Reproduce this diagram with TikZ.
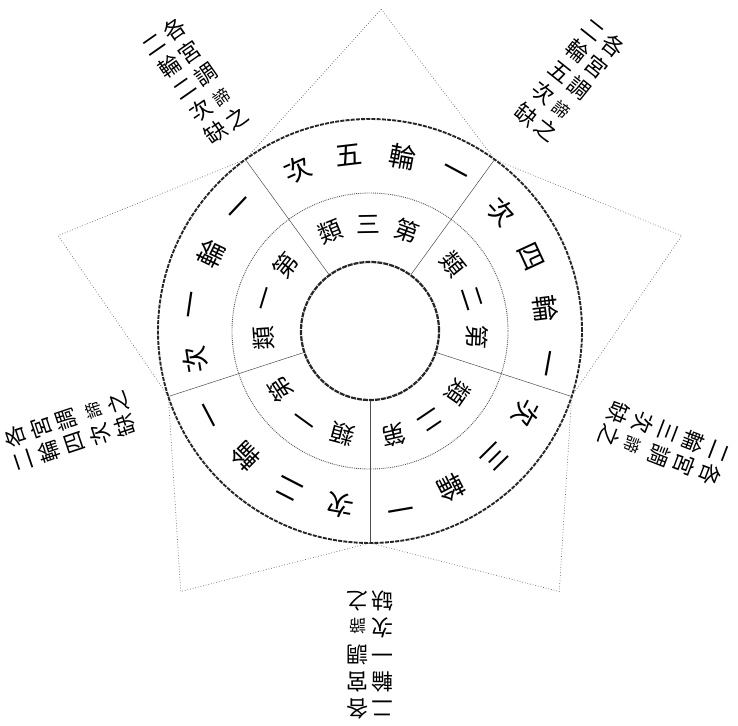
\documentclass[tikz,border=0pt]{standalone}
\usepackage{fontspec}
\newfontfamily\cjk{Noto Sans CJK TC}
\tikzset{
  starline/.style={dotted, line width=0.7pt, black!60},
  outerc/.style={line width=1.9pt, dash pattern=on 4pt off 1.2pt, black!85},
  innerc/.style={line width=2.2pt, dash pattern=on 5pt off 1pt, black!85},
  midc/.style={densely dotted, line width=0.9pt, black!65},
  divline/.style={line width=0.5pt, black!70},
  oc/.style={font=\cjk\fontsize{27}{27}\selectfont, inner sep=0pt},
  ic/.style={font=\cjk\fontsize{24}{24}\selectfont, inner sep=0pt},
  lab/.style={font=\cjk\fontsize{22}{27}\selectfont, inner sep=0pt}
}
\begin{document}
\begin{tikzpicture}[x=1pt,y=1pt]
\useasboundingbox (0,0) rectangle (738,-725);
\begin{scope}[shift={(370,-331)}]
\coordinate (C) at (0,0);
% star outline
\foreach \i/\a/\r in {0/88/322,1/126/212,2/163/326,3/198/212,4/234/322,5/270/212,6/306/322,7/342/212,8/17/326,9/54/212}
  \coordinate (s\i) at (\a:\r);
\draw[starline] (s0) -- (s1) -- (s2) -- (s3) -- (s4) -- (s5) -- (s6) -- (s7) -- (s8) -- (s9) -- cycle;
% circles
\draw[outerc] (C) circle (212);
\draw[midc] (C) circle (138);
\draw[innerc] (C) circle (69);
% sector dividers
\foreach \k/\a in {1/54,2/126,3/198,4/270,5/342} {
  \coordinate (da\k) at (\a:70);
  \coordinate (db\k) at (\a:211);
  \draw[divline] (da\k) -- (db\k);
}
% outer ring text
\foreach \c/\n [count=\k] in {163/一,234/二,306/三,16/四,88/五} {
  \foreach \o/\t [count=\j] in {-26.25/一,-8.75/輪,8.75/\n,26.25/次} {
    \pgfmathsetmacro\ang{\c+\o}
    \pgfmathsetmacro\rot{\c+\o-90}
    \node[oc, rotate=\rot] (o\k\j) at (\ang:177) {\t};
  }
}
% inner ring text
\foreach \c/\n [count=\k] in {163/一,234/一,304/二,18/二,91/三} {
  \foreach \o/\t [count=\j] in {-21/第,0/\n,21/類} {
    \pgfmathsetmacro\ang{\c+\o}
    \pgfmathsetmacro\rot{\c+\o-90}
    \node[ic, rotate=\rot] (i\k\j) at (\ang:107) {\t};
  }
}
% labels at the star's inner vertices
\foreach \a/\r/\n/\k in {270/321/一/1,125/302/二/2,339/312/三/3,198.5/313/四/4,51.5/318/五/5} {
  \pgfmathsetmacro\rot{\a-90}
  \node[lab, rotate=\rot] (L\k) at (\a:\r) {\begin{tabular}{@{}c@{\hspace{3pt}}c@{}}二&各\\輪&宮\\\n&調\\次&{\fontsize{17}{27}\selectfont 諦}\\缺&之\end{tabular}};
}
\end{scope}
\end{tikzpicture}
\end{document}
